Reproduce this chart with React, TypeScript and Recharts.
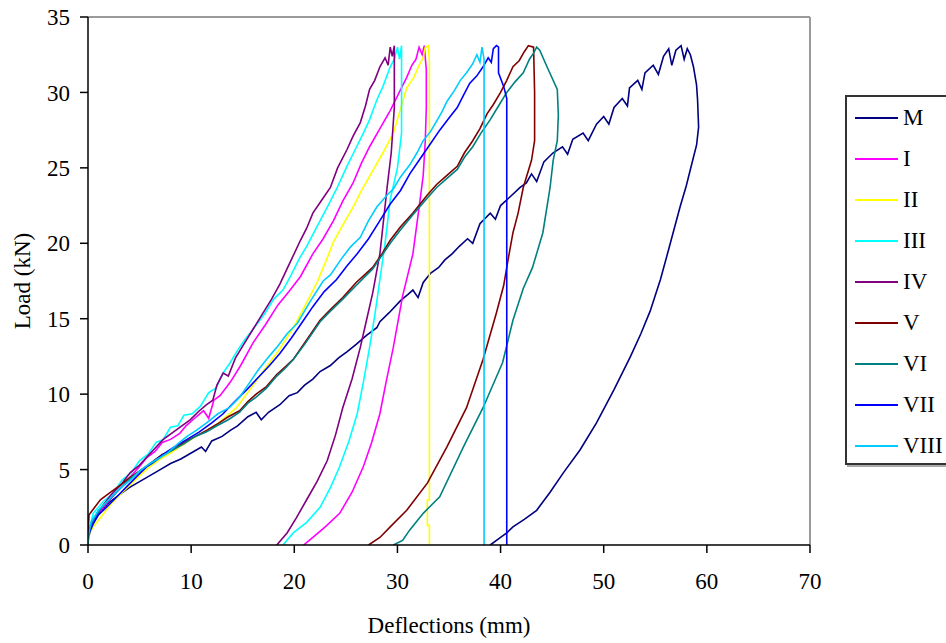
import React from 'react';
import { LineChart, Line, XAxis, YAxis, ReferenceLine } from 'recharts';

type Pt = [number, number];

const seriesNames = ['M', 'I', 'II', 'III', 'IV', 'V', 'VI', 'VII', 'VIII'];
const seriesColors = ['#000080', '#FF00FF', '#FFFF00', '#00FFFF', '#800080', '#800000', '#008080', '#0000FF', '#00CCFF'];
const xTicks = [0, 10, 20, 30, 40, 50, 60, 70];
const yTicks = [0, 5, 10, 15, 20, 25, 30, 35];

const seriesM: Pt[] = [
  [0, 0.3], [0.3, 1.2], [1, 2.0], [2, 2.8], [3, 3.3], [4, 3.8], [5, 4.2], [6, 4.6], [7, 5.0], [8, 5.4], [9, 5.7], [10, 6.1],
  [11, 6.5], [11.4, 6.2], [12, 6.9], [13, 7.2], [13.8, 7.6], [14.5, 7.9], [15.5, 8.5], [16.3, 8.8], [16.8, 8.3], [17.5, 8.8],
  [18.6, 9.3], [19.5, 9.9], [20.3, 10.1], [21, 10.6], [21.8, 11.0], [22.5, 11.5], [23.5, 11.9], [24.3, 12.4], [25.1, 12.8],
  [26, 13.3], [27, 13.9], [28, 14.4], [28.3, 14.8], [29.2, 15.4], [30.3, 16.2], [31, 16.6], [31.5, 16.9], [32, 16.4],
  [32.5, 17.4], [33.2, 18.0], [34, 18.4], [34.6, 18.9], [35.3, 19.3], [36, 19.8], [36.8, 20.3], [37.3, 20.0], [38, 21.3],
  [39, 22.0], [39.5, 21.6], [40, 22.5], [40.8, 23.0], [41.9, 23.7], [42.5, 24.0], [43, 24.6], [43.5, 24.1], [44.2, 25.4],
  [45.1, 26.0], [46, 26.4], [46.5, 25.9], [47, 26.9], [48, 27.3], [48.5, 26.8], [49.3, 27.9], [50, 28.4], [50.5, 27.9],
  [51, 29.0], [51.8, 29.6], [52.3, 29.1], [52.5, 30.3], [53.3, 30.8], [53.7, 30.2], [54, 31.3], [54.8, 31.8], [55.3, 31.2],
  [55.8, 32.4], [56.3, 32.9], [56.6, 31.8], [57, 32.8], [57.5, 33.1], [57.8, 32.2], [58.1, 32.9], [58.4, 32.5],
  [58.7, 31.7], [59.0, 30.5], [59.1, 29.5], [59.2, 27.7], [59.0, 26.5], [58.7, 25.7], [58.0, 23.8], [57.4, 22.4],
  [56.3, 19.6], [55.5, 17.6], [54.5, 15.5], [53.6, 14.0], [52.6, 12.5], [51.0, 10.3], [49.3, 8.1], [47.7, 6.3],
  [46.1, 4.8], [44.8, 3.5], [43.5, 2.3], [42.3, 1.7], [41.2, 1.2], [40.6, 0.8], [40, 0.5], [39.0, 0.0],
];

const seriesI: Pt[] = [
  [0, 0.8], [0.5, 1.7], [1.5, 2.5], [2.5, 3.3], [3.3, 3.9], [4.1, 4.5], [5, 5.2], [5.7, 5.8], [6.5, 6.2], [7.2, 6.8], [8, 7.0],
  [8.9, 7.4], [9.5, 7.9], [10.5, 8.5], [11.2, 8.9], [11.7, 8.4], [12.2, 9.6], [12.8, 9.9], [13.8, 10.8], [14.8, 11.9],
  [16, 13.4], [17.2, 14.6], [18.4, 15.9], [19.6, 16.9], [20.6, 17.8], [21.8, 19.3], [22.8, 20.3], [23.8, 21.5], [24.7, 22.8],
  [25.7, 24.0], [26.5, 25.3], [27.3, 26.4], [28.3, 27.6], [29.3, 28.8], [30.1, 29.9], [30.9, 31.0], [31.4, 31.8],
  [31.8, 32.2], [32.1, 33.0], [32.4, 32.5], [32.6, 33.1],
  [32.8, 31.5], [32.8, 29.0], [32.7, 26.8], [32.5, 24.5], [32.2, 22.9], [31.5, 19.3], [30.5, 16.5], [29.6, 13.1],
  [28.9, 10.8], [28.3, 8.7], [27.5, 6.8], [26.7, 5.2], [25.6, 3.5], [24.4, 2.1], [23.0, 1.2], [21.8, 0.5], [20.9, 0.0],
];

const seriesII: Pt[] = [
  [0, 0.6], [0.6, 1.3], [1.2, 1.8], [2.2, 2.7], [3.2, 3.4], [4.1, 4.0], [5, 4.6], [6, 5.2], [7, 5.7], [8, 6.1], [8.9, 6.5],
  [10, 7.0], [11, 7.4], [12.1, 7.8], [13.2, 8.4], [14.4, 9.1], [15.8, 10.4], [17.3, 11.8], [18.6, 13.0], [19.9, 14.4],
  [21.0, 15.8], [22.2, 17.4], [23.0, 18.7], [23.8, 20.1], [24.7, 21.2], [25.7, 22.4], [26.6, 23.6], [27.6, 24.8],
  [28.6, 26.0], [29.6, 27.3], [30.3, 28.9], [30.9, 30.3], [31.6, 31.0], [32.1, 31.8], [32.5, 32.3], [32.7, 33.0], [33.0, 33.1],
  [33.1, 32.0], [33.1, 3.0], [32.9, 3.0], [32.9, 1.3], [33.1, 1.3], [33.1, 0.0],
];

const seriesIII: Pt[] = [
  [0, 0.0], [0.2, 1.2], [0.5, 2.1], [1.5, 2.9], [2.4, 3.4], [3.3, 4.3], [4.2, 4.8], [5, 5.6], [5.8, 6.0], [6.6, 6.8],
  [7.3, 7.0], [8, 7.8], [8.7, 7.9], [9.3, 8.6], [10.1, 8.7], [10.9, 9.2], [11.7, 10.1], [12.4, 10.4], [13.1, 11.4],
  [13.8, 12.1], [14.5, 12.9], [15.2, 13.6], [16, 14.3], [17.1, 15.3], [18.0, 16.3], [18.9, 16.9], [19.7, 17.9], [20.5, 19.0],
  [21.2, 19.8], [22.2, 21.1], [23.2, 22.4], [24.1, 23.6], [25.1, 25.1], [25.9, 26.2], [26.7, 27.3], [27.3, 28.2], [28, 29.5],
  [28.6, 30.4], [29.3, 31.7], [29.7, 32.2], [30.0, 33.0], [30.2, 32.2], [30.4, 33.1],
  [30.4, 31.0], [30.4, 27.3], [30.0, 25.0], [29.3, 22.9], [28.8, 20.0], [28.3, 17.6], [27.8, 15.2], [27.3, 13.1],
  [26.7, 10.8], [26.1, 8.7], [25.3, 6.9], [24.4, 5.2], [23.5, 3.8], [22.5, 2.5], [21.2, 1.5], [19.9, 0.8], [18.9, 0.0],
];

const seriesIV: Pt[] = [
  [0, 0.8], [0.4, 1.6], [1.2, 2.4], [2.2, 3.3], [3.2, 4.0], [4.1, 4.8], [5, 5.3], [6.2, 6.2], [7.3, 7.0], [8.5, 7.6],
  [9.9, 8.3], [10.8, 8.9], [11.5, 9.3], [12.1, 9.6], [12.5, 10.6], [13.1, 11.4], [13.6, 11.2], [14.3, 12.4], [15.1, 13.3],
  [16, 14.3], [16.9, 15.3], [17.8, 16.3], [18.6, 17.3], [19.5, 18.6], [20.6, 20.2], [21.2, 21.0], [21.8, 22.0], [22.6, 22.8],
  [23.5, 23.7], [24.2, 25.0], [25.1, 26.2], [25.7, 27.1], [26.4, 28.0], [26.9, 29.1], [27.3, 30.2], [27.8, 30.8],
  [28.3, 31.7], [28.8, 32.3], [29.1, 31.8], [29.3, 33.0], [29.5, 32.4], [29.7, 33.1],
  [29.7, 29.0], [29.4, 26.0], [29.0, 23.7], [28.3, 19.3], [27.6, 16.7], [27.0, 14.9], [26.4, 13.1], [25.6, 11.0],
  [24.7, 9.1], [24.0, 7.3], [23.2, 5.6], [22.2, 4.2], [21.2, 3.0], [20.2, 1.8], [19.3, 0.8], [18.3, 0.0],
];

const seriesV: Pt[] = [
  [0, 0.8], [0.1, 2.0], [1.2, 3.0], [2, 3.4], [3, 3.9], [4.1, 4.5], [5, 4.9], [6.2, 5.5], [7.2, 6.0], [8.2, 6.3], [9.3, 6.8],
  [10.4, 7.2], [11.5, 7.6], [12.5, 8.0], [13.6, 8.5], [14.7, 8.9], [15.5, 9.5], [16.3, 10.0], [17.3, 10.5], [18.3, 11.3],
  [19.1, 11.8], [19.9, 12.3], [21, 13.4], [22.5, 14.9], [23.5, 15.6], [24.7, 16.4], [26.0, 17.4], [27.6, 18.4], [28.5, 19.3],
  [29.3, 20.2], [30.3, 21.1], [31.5, 22.0], [32.9, 23.2], [33.8, 23.9], [34.8, 24.5], [35.8, 25.1], [36.5, 26.0],
  [37.3, 26.8], [38.0, 27.6], [38.7, 28.6], [39.3, 29.2], [40.0, 30.0], [40.6, 30.8], [41.2, 31.7], [41.8, 32.1],
  [42.3, 32.7], [42.7, 33.1], [43.2, 33.0],
  [43.3, 30.0], [43.3, 26.8], [43.0, 25.5], [42.2, 23.7], [41.7, 22.0], [41.2, 20.7], [40.7, 18.8], [40.3, 17.2],
  [39.6, 15.4], [38.3, 12.3], [36.7, 9.1], [34.8, 6.5], [32.9, 4.1], [30.9, 2.3], [29.3, 1.2], [28.3, 0.5], [27.2, 0.0],
];

const seriesVI: Pt[] = [
  [0, 0.5], [0.4, 1.4], [1.2, 2.4], [2.2, 3.1], [3.2, 3.8], [4.1, 4.4], [5.2, 5.0], [6.2, 5.4], [7.2, 5.9], [8.2, 6.3],
  [9.3, 6.7], [10.4, 7.2], [11.5, 7.5], [12.5, 7.9], [13.6, 8.3], [14.7, 8.8], [15.5, 9.4], [16.3, 9.8], [17.3, 10.4],
  [18.3, 11.2], [19.1, 11.7], [19.9, 12.3], [21, 13.3], [22.5, 14.8], [23.5, 15.5], [24.7, 16.3], [26.0, 17.2], [27.6, 18.3],
  [28.5, 19.2], [29.3, 20.0], [30.3, 20.9], [31.5, 21.9], [32.9, 23.0], [33.8, 23.7], [34.8, 24.3], [35.8, 24.9],
  [36.5, 25.7], [37.3, 26.4], [38.1, 27.3], [39.0, 28.2], [39.8, 29.1], [40.6, 30.0], [41.4, 30.7], [42.2, 31.3],
  [42.8, 32.2], [43.2, 32.6], [43.5, 33.0], [43.8, 32.8],
  [44.5, 31.7], [45.5, 30.2], [45.6, 28.5], [45.5, 26.8], [45.1, 25.5], [44.8, 23.7], [44.1, 20.7], [43.1, 18.4],
  [42.2, 17.0], [41.2, 14.9], [40.2, 12.1], [38.3, 9.1], [36.4, 6.5], [34.1, 3.2], [32.5, 2.1], [31.2, 1.0], [30.5, 0.3],
  [29.6, 0.0],
];

const seriesVII: Pt[] = [
  [0, 0.6], [0.5, 1.4], [1.0, 2.0], [1.8, 2.5], [2.8, 3.2], [3.8, 3.9], [4.8, 4.6], [5.7, 5.2], [6.7, 5.7], [7.7, 6.2],
  [8.6, 6.6], [9.6, 7.0], [10.8, 7.5], [12.0, 8.1], [13.1, 8.7], [14.2, 9.5], [15.4, 10.3], [16.5, 11.1], [17.6, 11.9],
  [18.6, 12.7], [19.7, 13.7], [20.8, 14.8], [21.8, 15.8], [22.9, 16.8], [24.1, 17.6], [25.1, 18.5], [26.1, 19.3],
  [27.2, 20.3], [28.3, 21.5], [29.3, 22.6], [30.3, 23.5], [31.2, 24.6], [32.2, 25.6], [33.1, 26.5], [34.1, 27.5],
  [35.0, 28.3], [35.8, 29.0], [36.4, 29.8], [37.0, 30.6], [37.7, 31.1], [38.3, 31.7], [38.8, 32.3], [39.1, 32.0],
  [39.3, 32.9], [39.6, 33.1], [39.8, 33.0],
  [39.8, 31.3], [40.3, 30.4], [40.6, 29.6], [40.6, 1.0], [40.6, 0.0],
];

const seriesVIII: Pt[] = [
  [0, 0.5], [0.3, 1.5], [1, 2.3], [2, 3.0], [3, 3.7], [4.1, 4.3], [5, 4.9], [6, 5.4], [7, 5.8], [7.7, 6.1], [8.7, 6.7],
  [9.6, 7.2], [10.5, 7.6], [11.5, 8.1], [12.6, 8.7], [13.7, 9.1], [14.7, 9.8], [15.6, 10.7], [16.5, 11.6], [17.3, 12.3],
  [18.3, 13.1], [19.3, 14.0], [20.3, 14.7], [21.5, 16.1], [22.8, 17.5], [23.5, 17.9], [24.6, 19.0], [25.5, 19.8],
  [26.4, 20.4], [27.2, 21.5], [28.0, 22.4], [29.0, 23.2], [29.6, 23.6], [30.3, 24.4], [31.2, 25.2], [31.9, 26.0],
  [32.5, 26.8], [33.2, 27.4], [33.8, 28.1], [34.3, 28.7], [34.8, 29.4], [35.5, 30.1], [36.1, 30.8], [36.7, 31.3],
  [37.3, 31.9], [37.7, 32.5], [38.0, 32.0], [38.2, 33.0],
  [38.4, 32.2], [38.4, 0.0],
];

const allSeries: Pt[][] = [seriesM, seriesI, seriesII, seriesIII, seriesIV, seriesV, seriesVI, seriesVII, seriesVIII];

const FONT = '"Liberation Serif", "Times New Roman", serif';
const FS = 23;

const YTitle = (props: any) => {
  const vb = props.viewBox || { x: 0, y: 0, width: 0, height: 0 };
  const cx = vb.x + 22;
  const cy = vb.y + vb.height / 2;
  return (
    <text x={cx} y={cy} transform={`rotate(-90 ${cx} ${cy})`} textAnchor="middle" dominantBaseline="central"
      fontFamily={FONT} fontSize={FS} fill="#000">Load (kN)</text>
  );
};

const XTitle = (props: any) => {
  const vb = props.viewBox || { x: 0, y: 0, width: 0, height: 0 };
  const cx = vb.x + vb.width / 2;
  const cy = vb.y + 88;
  return (
    <text x={cx} y={cy} textAnchor="middle" fontFamily={FONT} fontSize={FS} fill="#000">Deflections (mm)</text>
  );
};

export default function App() {
  return (
    <div style={{ position: 'absolute', left: 0, top: 0, width: 946, height: 643, background: '#fff' }}>
      <LineChart width={946} height={643} margin={{ top: 17, right: 136, left: 0, bottom: 0 }}>
        <XAxis
          type="number" dataKey="x" domain={[0, 70]} ticks={xTicks} allowDataOverflow
          height={98} tickSize={8} tickMargin={20}
          axisLine={{ stroke: '#000', strokeWidth: 1.5 }} tickLine={{ stroke: '#000', strokeWidth: 1.5 }}
          tick={{ fill: '#000', fontSize: FS, fontFamily: FONT }}
          label={{ content: XTitle }}
        />
        <YAxis
          type="number" dataKey="y" domain={[0, 35]} ticks={yTicks} allowDataOverflow
          width={88} tickSize={8} tickMargin={10}
          axisLine={{ stroke: '#000', strokeWidth: 1.5 }} tickLine={{ stroke: '#000', strokeWidth: 1.5 }}
          tick={{ fill: '#000', fontSize: FS, fontFamily: FONT }}
          label={{ content: YTitle }}
        />
        <ReferenceLine y={35} stroke="#9a9a9a" strokeWidth={2} ifOverflow="extendDomain" />
        <ReferenceLine x={70} stroke="#9a9a9a" strokeWidth={2} ifOverflow="extendDomain" />
        {allSeries.map((s, i) => (
          <Line
            key={seriesNames[i]}
            name={seriesNames[i]}
            data={s.map(([x, y]) => ({ x, y }))}
            dataKey="y"
            type="linear"
            stroke={seriesColors[i]}
            strokeWidth={1.6}
            dot={false}
            activeDot={false}
            isAnimationActive={false}
          />
        ))}
      </LineChart>
      <div style={{
        position: 'absolute', left: 845, top: 95, width: 110, height: 366,
        border: '2px solid #333', boxShadow: '2px 2px 0 #aaa', background: '#fff',
        fontFamily: FONT, fontSize: FS, color: '#000',
      }}>
        {seriesNames.map((n, i) => (
          <div key={n} style={{ height: 41, display: 'flex', alignItems: 'center' }}>
            <div style={{ marginLeft: 8, width: 43, height: 2, background: seriesColors[i] }} />
            <span style={{ marginLeft: 5, lineHeight: '41px' }}>{n}</span>
          </div>
        ))}
      </div>
    </div>
  );
}
